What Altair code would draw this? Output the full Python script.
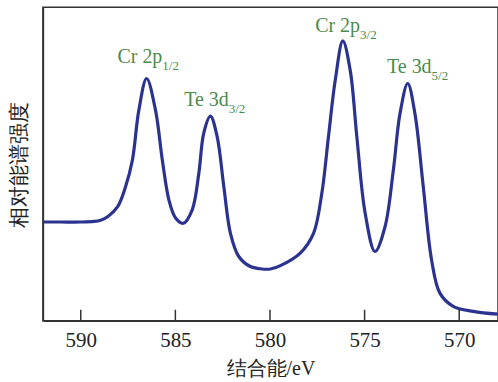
import altair as alt
import pandas as pd

# binding energy (eV) and relative intensity
energy = [591.95, 591.05, 590.0, 589.3, 588.95, 588.58, 588.05, 587.63, 587.27, 586.93, 586.52,
          586.05, 585.69, 585.34, 584.99, 584.58, 584.11, 583.76, 583.50, 583.15, 582.79,
          582.44, 582.09, 581.65, 581.04, 580.51, 579.98, 579.45, 578.40, 577.70, 577.26,
          576.91, 576.55, 576.15, 575.76, 575.41, 574.97, 574.45, 573.92, 573.48, 573.13,
          572.72, 572.34, 571.90, 571.46, 571.02, 570.32, 569.26, 567.96]
intensity = [31.5, 31.5, 31.5, 31.7, 32.1, 33.2, 36.4, 42.8, 51.3, 67.2, 77.3,
             67.2, 51.3, 38.5, 32.8, 31.1, 35.4, 47.1, 59.9, 65.3, 58.7,
             42.8, 27.9, 20.5, 17.3, 16.6, 16.5, 17.6, 21.6, 27.9, 40.7,
             58.7, 76.8, 89.3, 79.9, 58.7, 34.3, 22.1, 30.0, 48.1, 66.1,
             75.7, 66.1, 42.8, 19.4, 8.8, 4.6, 3.0, 2.1]

label_main = ["Cr 2p", "Te 3d", "Cr 2p", "Te 3d"]
label_sub = ["1/2", "3/2", "3/2", "5/2"]
label_x = [585.69, 582.18, 575.24, 571.46]
label_y = [82.1, 68.5, 92.0, 79.1]

tick_values = [590, 585, 580, 575, 570]

W, H = 456, 314
LINE = "#2b3290"
GREEN = "#4b8b4b"
AXIS = "#333333"
SERIF = "Liberation Serif"

spec = pd.DataFrame({"energy": energy, "intensity": intensity})
labels = pd.DataFrame({"x": label_x, "y": label_y, "main": label_main, "sub": label_sub})
ticks = pd.DataFrame({"t": tick_values})

xscale = alt.Scale(domain=[592, 567.95], nice=False, zero=False)
yscale = alt.Scale(domain=[0, 100], nice=False, zero=False)

xaxis = alt.Axis(
    title="结合能/eV", values=tick_values, ticks=False, grid=False,
    labelFont=SERIF, labelFontSize=21, labelColor="#222222", labelPadding=9,
    titleFont=SERIF, titleFontSize=20, titleFontWeight="normal",
    titleColor="#222222", titlePadding=8, domainColor=AXIS, domainWidth=1.5,
)
yaxis = alt.Axis(
    title="相对能谱强度", labels=False, ticks=False, grid=False,
    titleFont=SERIF, titleFontSize=21, titleFontWeight="normal",
    titleColor="#222222", titleX=-23, titleY=H / 2, titleAngle=-90,
    titleAlign="center", titleBaseline="middle",
    domainColor=AXIS, domainWidth=1.5,
)

line = alt.Chart(spec).mark_line(color=LINE, strokeWidth=3.2, interpolate="catmull-rom").encode(
    x=alt.X("energy:Q", scale=xscale, axis=xaxis),
    y=alt.Y("intensity:Q", scale=yscale, axis=yaxis),
)

tick_marks = alt.Chart(ticks).mark_rule(color=AXIS, strokeWidth=1.5).encode(
    x=alt.X("t:Q", scale=xscale),
    y=alt.value(H - 11),
    y2=alt.value(H),
)

main_text = alt.Chart(labels).mark_text(
    align="right", baseline="alphabetic", font=SERIF, fontSize=20, color=GREEN
).encode(x=alt.X("x:Q", scale=xscale), y=alt.Y("y:Q", scale=yscale), text="main:N")

sub_text = alt.Chart(labels).mark_text(
    align="left", baseline="alphabetic", font=SERIF, fontSize=13, color=GREEN, dy=7
).encode(x=alt.X("x:Q", scale=xscale), y=alt.Y("y:Q", scale=yscale), text="sub:N")

chart = alt.layer(line, tick_marks, main_text, sub_text).properties(
    width=W, height=H,
    autosize=alt.AutoSizeParams(type="none"),
    padding={"left": 43, "top": 7, "right": 0, "bottom": 61},
    background="white",
).configure_view(stroke=AXIS, strokeWidth=1.5)

chart.save("out.html", embed_options={"renderer": "svg", "actions": False})
